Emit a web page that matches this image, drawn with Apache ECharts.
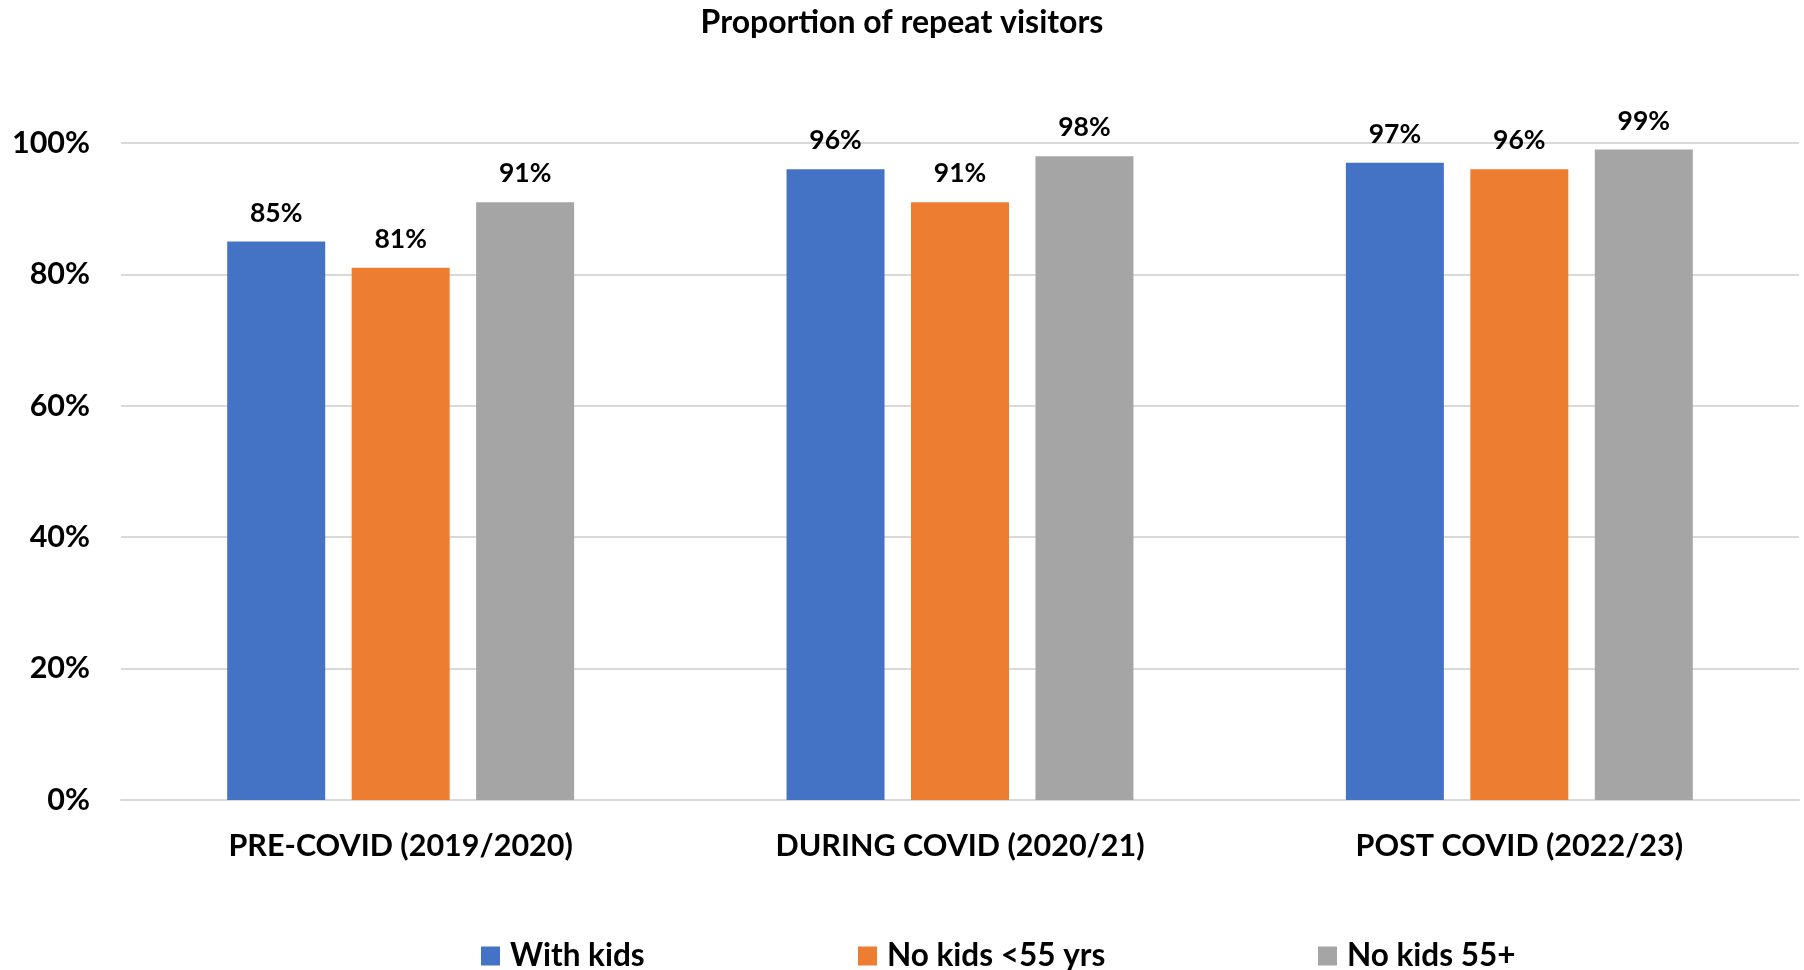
<!DOCTYPE html>
<html>
<head>
<meta charset="utf-8">
<script src="https://cdn.jsdelivr.net/npm/echarts@6/dist/echarts.min.js"></script>
<style>
html,body{margin:0;padding:0;background:#fff;}
#chart{width:1804px;height:970px;}
</style>
</head>
<body>
<div id="chart"></div>
<script>
const categories = ['PRE-COVID (2019/2020)', 'DURING COVID (2020/21)', 'POST COVID (2022/23)'];
const seriesNames = ['With kids', 'No kids <55 yrs', 'No kids 55+'];
const withKids = [85, 96, 97];
const noKidsUnder55 = [81, 91, 96];
const noKids55Plus = [91, 98, 99];
const yTicks = [0, 20, 40, 60, 80, 100];
const colors = ['#4472C4', '#ED7D31', '#A5A5A5'];

const FONT = 'Lato';
const chart = echarts.init(document.getElementById('chart'));
const values = [withKids, noKidsUnder55, noKids55Plus];
const legendLefts = [481, 858, 1318];

chart.setOption({
  animation: false,
  title: {
    text: 'Proportion of repeat visitors',
    left: 'center',
    top: 2,
    textStyle: { fontFamily: FONT, fontWeight: 'bold', fontSize: 32, color: '#000' }
  },
  legend: seriesNames.map((n, i) => ({
    data: [n],
    left: legendLefts[i],
    top: 940,
    padding: 0,
    itemWidth: 19,
    itemHeight: 19,
    itemGap: 10,
    icon: 'rect',
    textStyle: { fontFamily: FONT, fontWeight: 'bold', fontSize: 31.5, color: '#000', padding: [0, 0, 0, 5] }
  })),
  grid: { left: 121, right: 5, top: 143, bottom: 170, containLabel: false },
  xAxis: {
    type: 'category',
    data: categories,
    axisTick: { show: false },
    axisLine: { lineStyle: { color: '#D9D9D9', width: 2 } },
    axisLabel: { fontFamily: FONT, fontWeight: 'bold', fontSize: 30.5, color: '#000', margin: 31 }
  },
  yAxis: {
    type: 'value',
    min: yTicks[0],
    max: yTicks[yTicks.length - 1],
    interval: yTicks[1] - yTicks[0],
    axisLine: { show: false },
    axisTick: { show: false },
    splitLine: { lineStyle: { color: '#D9D9D9', width: 2 } },
    axisLabel: { fontFamily: FONT, fontWeight: 'bold', fontSize: 30.5, color: '#000', margin: 31, formatter: '{value}%' }
  },
  series: seriesNames.map((n, i) => ({
    name: n,
    type: 'bar',
    data: values[i],
    barWidth: 98,
    barGap: '27%',
    itemStyle: { color: colors[i] },
    label: {
      show: true,
      position: 'top',
      distance: 15,
      formatter: '{c}%',
      fontFamily: FONT,
      fontWeight: 'bold',
      fontSize: 26.5,
      color: '#000'
    }
  }))
});
</script>
</body>
</html>
